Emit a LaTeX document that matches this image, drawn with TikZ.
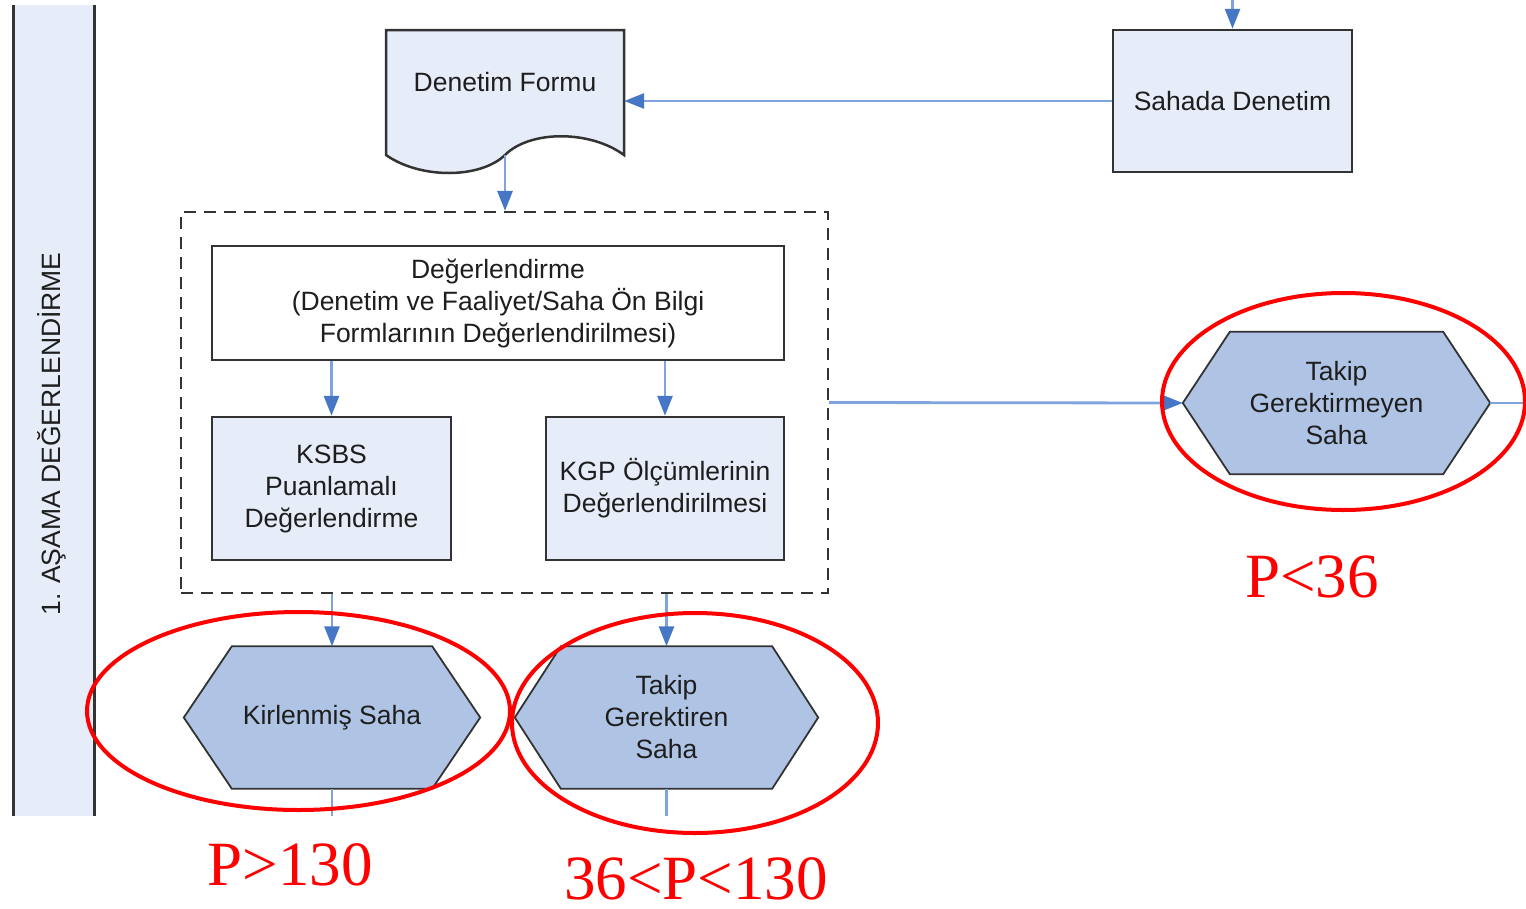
\documentclass[tikz,border=0pt]{standalone}
\usepackage{fontspec}
\setmainfont{Liberation Sans}
\newfontfamily\timesfont{Liberation Serif}
\usetikzlibrary{arrows.meta,shapes.geometric,backgrounds}
\definecolor{boxfill}{HTML}{E6ECF8}
\definecolor{hexfill}{HTML}{AFC4E4}
\definecolor{edgegray}{HTML}{333333}
\definecolor{flowline}{HTML}{7FA3DD}
\definecolor{flowtip}{HTML}{4676C6}
\definecolor{txt}{HTML}{1E1E1E}
\definecolor{markred}{HTML}{FF0000}
\newcommand\hexpath[2]{\draw[hexshape] (#1.west) -- ([xshift=#2]#1.north west) -- ([xshift=-#2]#1.north east) -- (#1.east) -- ([xshift=-#2]#1.south east) -- ([xshift=#2]#1.south west) -- cycle;}
\begin{document}
\begin{tikzpicture}[x=1pt,y=-1pt,
  every node/.style={font=\fontsize{26.5}{32}\selectfont, text=txt, inner sep=0pt},
  procbox/.style={draw=edgegray, line width=2.5pt, fill=boxfill, align=center},
  whitebox/.style={draw=edgegray, line width=2.5pt, fill=white, align=center},
  hexnode/.style={align=center, minimum height=142pt},
  hexshape/.style={draw=edgegray, line width=1.8pt, fill=hexfill, line join=miter},
  flow/.style={draw=flowline, line width=2.8pt, -{Triangle[width=15pt,length=20pt,color=flowtip]}},
  flowplain/.style={draw=flowline, line width=2.8pt},
  redring/.style={draw=markred, line width=4pt, ellipse, inner sep=0pt},
  redlabel/.style={text=markred, font=\timesfont\fontsize{63}{63}\selectfont},
]
\useasboundingbox (0,0) rectangle (1526,908);

% swimlane band
\fill[boxfill] (13,5) rectangle (94,816);
\draw[edgegray, line width=3pt] (13,5) -- (13,816) (94,5) -- (94,816);
\node[rotate=90] (phase) at (52,434) {1. AŞAMA DEĞERLENDİRME};

% Denetim Formu (document shape)
\node[minimum width=238pt, minimum height=125pt] (formbody) at (505,92.5) {};
\draw[procbox] (386,30) -- (624,30) -- (624,155) .. controls (590,130) and (530,130) .. (505,155) .. controls (480,179) and (420,179) .. (386,155) -- cycle;
\node (formtxt) at (505,82) {Denetim Formu};
\coordinate (formbot) at (505,155);

% Sahada Denetim
\node[procbox, minimum width=239pt, minimum height=142pt] (sahada) at (1232.5,101) {Sahada Denetim};
\coordinate (topin) at (1232.5,0);

% group (dashed)
\node[draw=edgegray, line width=2.2pt, dash pattern=on 12pt off 8pt, minimum width=647pt, minimum height=381pt] (grp) at (504.5,402.5) {};

\node[whitebox, minimum width=572pt, minimum height=114pt] (deg) at (498,303) {Değerlendirme\\(Denetim ve Faaliyet/Saha Ön Bilgi\\Formlarının Değerlendirilmesi)};
\node[procbox, minimum width=239pt, minimum height=143pt] (ksbs) at (331.5,488.5) {KSBS\\Puanlamalı\\Değerlendirme};
\node[procbox, minimum width=238pt, minimum height=143pt] (kgp) at (665,488.5) {KGP Ölçümlerinin\\Değerlendirilmesi};

% hexagons
\node[hexnode, minimum width=307pt] (tgm) at (1336.5,403) {Takip\\Gerektirmeyen\\Saha};
\node[hexnode, minimum width=296pt] (kir) at (332,717.5) {Kirlenmiş Saha};
\node[hexnode, minimum width=303pt] (tg) at (666.5,717.5) {Takip\\Gerektiren\\Saha};
\begin{scope}[on background layer]
\hexpath{tgm}{47pt}
\hexpath{kir}{48pt}
\hexpath{tg}{46pt}
\end{scope}

\coordinate (tgmout) at (1526,403);
\coordinate (kirout) at (332,816);
\coordinate (tgout) at (666.5,816);

% connectors
\draw[flow] (topin) -- (sahada.north);
\draw[flow] (sahada.west) -- (sahada.west -| formbody.east);
\draw[flow] (formbot) -- (formbot |- grp.north);
\draw[flow] (ksbs.north |- deg.south) -- (ksbs.north);
\draw[flow] (kgp.north |- deg.south) -- (kgp.north);
\draw[flow] (grp.east) -- (tgm.west);
\draw[flowplain] (tgm.east) -- (tgmout);
\draw[flow] (kir.north |- grp.south) -- (kir.north);
\draw[flow] (tg.north |- grp.south) -- (tg.north);
\draw[flowplain] (kir.south) -- (kirout);
\draw[flowplain] (tg.south) -- (tgout);

% red annotations
\node[redring, minimum width=423pt, minimum height=198pt] (ekir) at (298.5,711) {};
\node[redring, minimum width=366pt, minimum height=220pt] (etg) at (695,723) {};
\node[redring, minimum width=363pt, minimum height=217pt] (etgm) at (1343.5,401.5) {};
\node[redlabel] (lkir) at (290,865) {P>130};
\node[redlabel] (ltg) at (696,879) {36<P<130};
\node[redlabel] (ltgm) at (1312,577) {P<36};
\end{tikzpicture}
\end{document}
